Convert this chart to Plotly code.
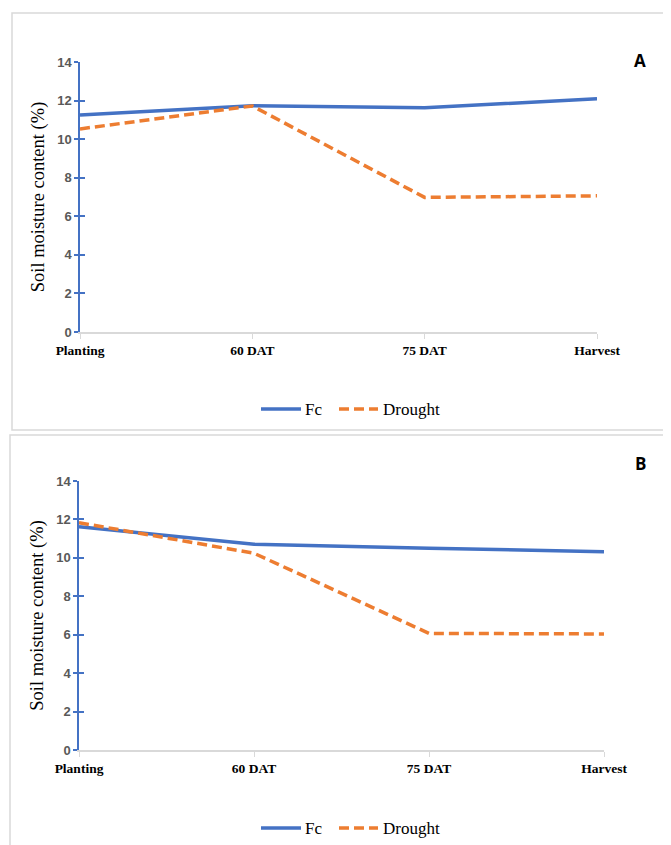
import plotly.graph_objects as go

stages = ["Planting", "60 DAT", "75 DAT", "Harvest"]
fc_a = [11.25, 11.73, 11.63, 12.09]
drought_a = [10.53, 11.72, 6.98, 7.06]
fc_b = [11.62, 10.71, 10.50, 10.32]
drought_b = [11.83, 10.24, 6.07, 6.04]
y_ticks = [0, 2, 4, 6, 8, 10, 12, 14]
series_names = ["Fc", "Drought"]

# page body adds an 8px margin, so the figure is sized to fit the window
OFF = 8
W, H = 671 - OFF, 845 - OFF
BLUE = "#4472C4"
ORANGE = "#ED7D31"
DASH = "10px,5px"
xpos = list(range(len(stages)))

fig = go.Figure()

def px_x(v):
    return (v - OFF) / W

def px_y(v):
    return 1 - (v - OFF) / H

panels = [
    dict(fc=fc_a, dr=drought_a, x=("x", "y"), xd=(80, 597), yd=(62, 332), label="A", ly=47, legy=409),
    dict(fc=fc_b, dr=drought_b, x=("x2", "y2"), xd=(79, 604), yd=(481, 750), label="B", ly=463, legy=828),
]

for i, p in enumerate(panels):
    xa, ya = p["x"]
    fig.add_trace(go.Scatter(x=xpos, y=p["fc"], mode="lines", name=series_names[0],
                             line=dict(color=BLUE, width=3.5), xaxis=xa, yaxis=ya, showlegend=False))
    fig.add_trace(go.Scatter(x=xpos, y=p["dr"], mode="lines", name=series_names[1],
                             line=dict(color=ORANGE, width=3.5, dash=DASH), xaxis=xa, yaxis=ya,
                             showlegend=False))

axis_common_x = dict(
    range=[0, 3], tickvals=xpos, ticktext=stages, showgrid=False, zeroline=False,
    showline=True, linecolor="#D9D9D9", linewidth=1.5, ticks="outside", ticklen=5,
    tickcolor="#D9D9D9", tickwidth=1, automargin=False,
    tickfont=dict(family="Liberation Serif", size=13.5, color="#000000", weight="bold"),
)
axis_common_y = dict(
    range=[0, 14], tickvals=y_ticks, showgrid=False, zeroline=False,
    showline=True, linecolor=BLUE, linewidth=1.5, ticks="outside", ticklen=4,
    tickcolor=BLUE, tickwidth=1.5, automargin=False,
    tickfont=dict(family="Liberation Sans", size=13, color="#595959", weight="bold"),
    title=dict(text="Soil moisture content (%)",
               font=dict(family="Liberation Serif", size=18.5, color="#000000"), standoff=8),
)

layout_axes = {}
for i, p in enumerate(panels):
    sx = "" if i == 0 else "2"
    layout_axes["xaxis" + sx] = dict(axis_common_x, domain=[px_x(p["xd"][0]), px_x(p["xd"][1])],
                                     anchor="y" + sx)
    layout_axes["yaxis" + sx] = dict(axis_common_y, domain=[px_y(p["yd"][1]), px_y(p["yd"][0])],
                                     anchor="x" + sx)

# inner halves of crossing tick marks
for name, over, anc in (("yaxis3", "y", "x"), ("yaxis4", "y2", "x2")):
    layout_axes[name] = dict(range=[0, 14], tickvals=y_ticks, overlaying=over, anchor=anc,
                             showticklabels=False, ticks="inside", ticklen=5, tickcolor=BLUE,
                             tickwidth=1.5, showgrid=False, zeroline=False, showline=False,
                             automargin=False)
fig.add_trace(go.Scatter(x=[None], y=[None], xaxis="x", yaxis="y3", showlegend=False, hoverinfo="skip"))
fig.add_trace(go.Scatter(x=[None], y=[None], xaxis="x2", yaxis="y4", showlegend=False, hoverinfo="skip"))

fig.update_layout(
    width=W, height=H, margin=dict(l=0, r=0, t=0, b=0, autoexpand=False),
    paper_bgcolor="white", plot_bgcolor="white", showlegend=False,
    **layout_axes,
)

# panel borders
fig.add_shape(type="rect", xref="paper", yref="paper", x0=px_x(12), x1=1.02, y0=px_y(430), y1=px_y(13),
              line=dict(color="#D9D9D9", width=1.5), fillcolor="rgba(0,0,0,0)", layer="below")
fig.add_shape(type="rect", xref="paper", yref="paper", x0=px_x(10), x1=1.02, y0=-0.02, y1=px_y(435),
              line=dict(color="#D9D9D9", width=1.5), fillcolor="rgba(0,0,0,0)", layer="below")

legend_font = dict(family="Liberation Serif", size=17, color="#000000")
for p in panels:
    fig.add_annotation(text="<b>" + p["label"] + "</b>", xref="paper", yref="paper",
                       x=px_x(648), y=px_y(p["ly"]), showarrow=False,
                       font=dict(family="Open Sans", size=17, color="#000000"))
    ly = px_y(p["legy"])
    # legend keys
    fig.add_shape(type="line", xref="paper", yref="paper", x0=px_x(261), x1=px_x(301), y0=ly, y1=ly,
                  line=dict(color=BLUE, width=3.5))
    fig.add_shape(type="line", xref="paper", yref="paper", x0=px_x(339), x1=px_x(378), y0=ly, y1=ly,
                  line=dict(color=ORANGE, width=3.5, dash=DASH))
    fig.add_annotation(text=series_names[0], xref="paper", yref="paper", x=px_x(303), y=ly,
                       xanchor="left", yanchor="middle", showarrow=False, font=legend_font)
    fig.add_annotation(text=series_names[1], xref="paper", yref="paper", x=px_x(381), y=ly,
                       xanchor="left", yanchor="middle", showarrow=False, font=legend_font)

fig.write_html("out.html")
